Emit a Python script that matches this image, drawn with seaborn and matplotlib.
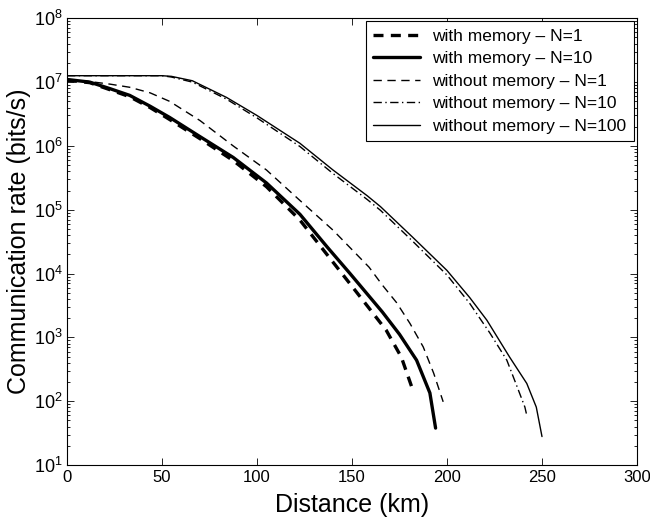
import numpy as np
import pandas as pd
import seaborn as sns
import matplotlib
matplotlib.use("Agg")
import matplotlib.pyplot as plt

# 데이터
# with memory - N=1
wm1_x = [0, 12, 22.6, 33, 43.7, 54, 70, 87.5, 105, 122.6, 138, 149, 158.5, 168, 176, 181.5]
wm1_y = [1.07e7, 9.8e6, 7.6e6, 5.9e6, 4.0e6, 2.6e6, 1.3e6, 5.9e5, 2.3e5, 6.9e4,
         1.8e4, 6.9e3, 3.0e3, 1.3e3, 490, 166]

# with memory - N=10
wm10_x = [0, 12, 22.6, 33, 43.7, 54, 70, 87.5, 105, 122.6, 137, 149, 158, 166, 175, 184, 191, 194]
wm10_y = [1.1e7, 1.0e7, 7.9e6, 6.2e6, 4.2e6, 2.8e6, 1.4e6, 6.6e5, 2.63e5, 8.5e4,
          2.6e4, 1.0e4, 4.8e3, 2.5e3, 1.12e3, 440, 135, 38]

# without memory - N=1
wo1_x = [0, 12, 22.6, 33, 43.7, 54, 70, 87.5, 105, 122.6, 140, 159, 166, 173.5, 180.5, 187.5, 193, 198]
wo1_y = [1.1e7, 1.02e7, 9.3e6, 8.3e6, 6.8e6, 5.0e6, 2.5e6, 1.0e6, 4.2e5, 1.4e5,
         4.8e4, 1.26e4, 6.6e3, 3.5e3, 1.66e3, 710, 275, 98]

# without memory - N=10
wo10_x = [0, 50, 55, 66, 84, 100, 122.6, 140, 158, 165, 182, 200, 212, 222.6, 231.5, 237, 241, 242]
wo10_y = [1.26e7, 1.26e7, 1.2e7, 1.0e7, 5.4e6, 2.75e6, 9.8e5, 3.7e5, 1.45e5, 9.8e4,
          3.2e4, 9.5e3, 3.4e3, 1.17e3, 440, 166, 81, 60]

# without memory - N=100
wo100_x = [0, 50, 55, 66, 84, 100, 122.6, 140, 158, 165, 182, 200, 212, 221, 233, 242, 247, 250]
wo100_y = [1.26e7, 1.26e7, 1.23e7, 1.05e7, 5.75e6, 3.0e6, 1.1e6, 4.2e5, 1.66e5, 1.12e5,
           3.7e4, 1.12e4, 4.2e3, 1.86e3, 490, 190, 81, 28]

labels = ["with memory \u2013 N=1", "with memory \u2013 N=10",
          "without memory \u2013 N=1", "without memory \u2013 N=10",
          "without memory \u2013 N=100"]

sns.set_style("ticks")
plt.rcParams['font.family'] = ['Liberation Sans', 'DejaVu Sans']
plt.rcParams['xtick.direction'] = 'in'
plt.rcParams['ytick.direction'] = 'in'
plt.rcParams['mathtext.fontset'] = 'custom'
plt.rcParams['mathtext.rm'] = 'Liberation Sans'
# 전부 검정색으로
for key in ['text.color', 'axes.labelcolor', 'xtick.color', 'ytick.color', 'axes.edgecolor']:
    plt.rcParams[key] = 'black'

fig = plt.figure(figsize=(6.5, 5.22), dpi=100)
ax = fig.add_axes([0.103, 0.109, 0.877, 0.856])

series = [
    (wm1_x, wm1_y, dict(lw=2.4, dashes=(3.0, 2.2))),
    (wm10_x, wm10_y, dict(lw=2.4, linestyle='-')),
    (wo1_x, wo1_y, dict(lw=1.0, dashes=(6, 4))),
    (wo10_x, wo10_y, dict(lw=1.0, dashes=(6, 2.5, 1, 2.5))),
    (wo100_x, wo100_y, dict(lw=1.0, linestyle='-')),
]

for (xs, ys, style), lab in zip(series, labels):
    df = pd.DataFrame({'x': xs, 'y': ys})
    sns.lineplot(data=df, x='x', y='y', ax=ax, color='black', label=lab,
                 sort=False, estimator=None, **style)

ax.set_yscale('log')
ax.set_xlim(0, 300)
ax.set_ylim(1e1, 1e8)
ax.set_xticks([0, 50, 100, 150, 200, 250, 300])
ax.set_yticks([10.0 ** k for k in range(1, 9)])
ax.tick_params(which='both', top=True, right=True, width=0.6)
ax.tick_params(axis='x', labelsize=12)
ax.tick_params(axis='y', labelsize=13, pad=3)
ax.tick_params(which='major', length=5)
ax.tick_params(which='minor', length=2.5)
for sp in ax.spines.values():
    sp.set_linewidth(0.8)

ax.set_xlabel("Distance (km)", fontsize=18, labelpad=6)
ax.set_ylabel("Communication rate (bits/s)", fontsize=18, labelpad=2)

leg = ax.legend(loc='upper right', fontsize=12.5, frameon=True, fancybox=False,
                borderaxespad=0.15, handlelength=2.7, labelspacing=0.42,
                borderpad=0.45, handletextpad=0.7)
leg.get_frame().set_edgecolor('black')
leg.get_frame().set_linewidth(0.8)
leg.get_frame().set_alpha(1)

fig.savefig("out.png", dpi=100)
